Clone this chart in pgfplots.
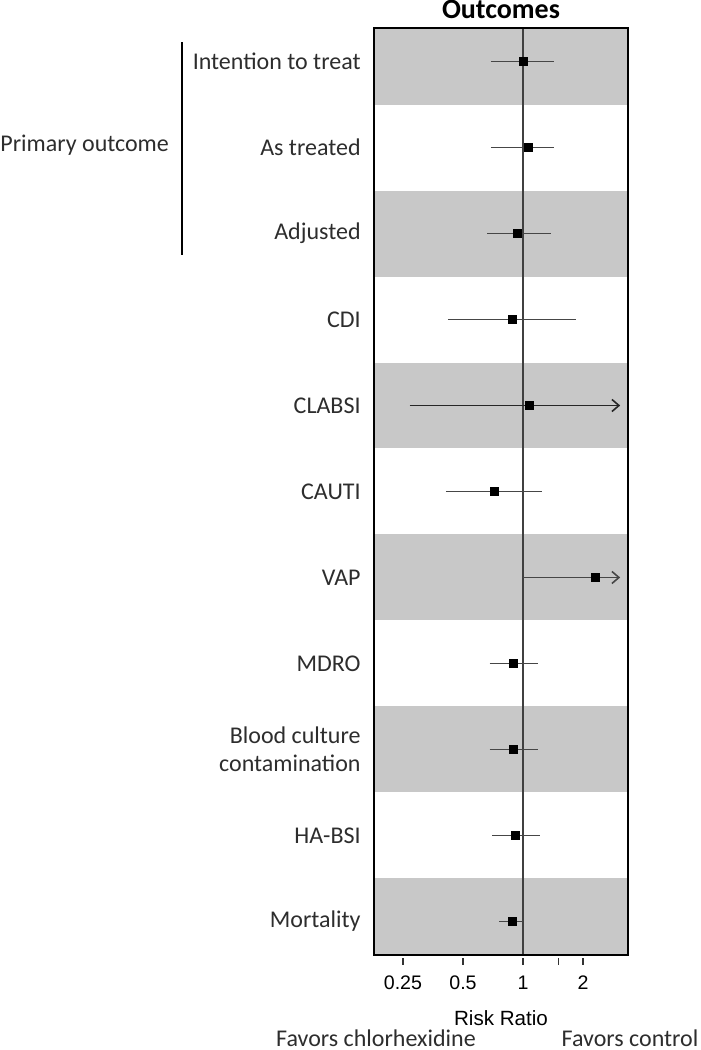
\documentclass[border=0pt]{standalone}
\usepackage{pgfplots}
\pgfplotsset{compat=1.18}
\usepackage{fontspec}
\setmainfont{Carlito}
\newfontfamily\arialfont{Liberation Sans}
\usetikzlibrary{arrows.meta}
\definecolor{bandgray}{RGB}{200,200,200}
\definecolor{cigray}{RGB}{70,70,70}
\definecolor{labelgray}{RGB}{45,45,45}
\begin{document}
\begin{tikzpicture}
\path[use as bounding box] (-187pt,-47.5pt) rectangle (163.5pt,477.5pt);
\begin{axis}[
  at={(0,0)}, anchor=south west,
  scale only axis, width=127pt, height=463.5pt,
  xmode=log, xmin=0.179, xmax=3.36, ymin=0.61, ymax=11.39,
  axis line style={line width=1pt, black},
  axis on top,
  tick align=outside, major tick length=3.5pt,
  xtick={0.25,0.5,1,1.5,2}, xticklabels={0.25,0.5,1,,2},
  xtick style={black!80, line width=0.6pt, yshift=-1.5pt},
  xticklabel style={font=\arialfont\fontsize{9.8}{11}\selectfont, anchor=base, yshift=-14pt},
  xtick pos=bottom,
  ytick={1,...,11},
  yticklabels={Mortality,HA-BSI,{Blood culture\\contamination},MDRO,VAP,CAUTI,CLABSI,CDI,Adjusted,As treated,Intention to treat},
  ytick style={draw=none},
  yticklabel style={font=\fontsize{12}{14}\selectfont, text=labelgray, align=right, inner sep=0pt, anchor=east, xshift=-3pt},
  title={Outcomes},
  every axis title/.style={font=\bfseries\fontsize{14}{16}\selectfont, at={(0.5,1)}, anchor=base, yshift=4.5pt},
  xlabel={Risk Ratio},
  xlabel style={font=\arialfont\fontsize{10.3}{12}\selectfont, at={(0.5,0)}, anchor=base, yshift=-35pt},
  clip=true,
]
% alternating background bands
\fill[bandgray] (axis cs:0.179,10.5) rectangle (axis cs:3.36,11.39);
\fill[bandgray] (axis cs:0.179,8.5) rectangle (axis cs:3.36,9.5);
\fill[bandgray] (axis cs:0.179,6.5) rectangle (axis cs:3.36,7.5);
\fill[bandgray] (axis cs:0.179,4.5) rectangle (axis cs:3.36,5.5);
\fill[bandgray] (axis cs:0.179,2.5) rectangle (axis cs:3.36,3.5);
\fill[bandgray] (axis cs:0.179,0.61) rectangle (axis cs:3.36,1.5);
% reference line
\addplot[black!75, line width=0.6pt] coordinates {(1,0.61) (1,11.39)};
% confidence intervals
\addplot[cigray, line width=0.8pt] coordinates {(0.69,11) (1.43,11)};
\addplot[cigray, line width=0.8pt] coordinates {(0.69,10) (1.43,10)};
\addplot[cigray, line width=0.8pt] coordinates {(0.66,9) (1.38,9)};
\addplot[cigray, line width=0.8pt] coordinates {(0.42,8) (1.84,8)};
\addplot[black!85, line width=0.8pt, -{Straight Barb[length=3.5pt,width=6pt]}] coordinates {(0.27,7) (3.07,7)};
\addplot[cigray, line width=0.8pt] coordinates {(0.41,6) (1.25,6)};
\addplot[cigray, line width=0.8pt, -{Straight Barb[length=3.5pt,width=6pt]}] coordinates {(1.00,5) (3.07,5)};
\addplot[cigray, line width=0.8pt] coordinates {(0.68,4) (1.19,4)};
\addplot[cigray, line width=0.8pt] coordinates {(0.68,3) (1.19,3)};
\addplot[cigray, line width=0.8pt] coordinates {(0.70,2) (1.22,2)};
\addplot[cigray, line width=0.8pt] coordinates {(0.76,1) (1.00,1)};
% point estimates
\addplot[only marks, mark=square*, mark size=2pt, black] coordinates {
(1.00,11) (1.06,10) (0.94,9) (0.88,8) (1.08,7) (0.72,6) (2.30,5) (0.89,4) (0.89,3) (0.92,2) (0.88,1)};
\end{axis}
% group bracket and label
\draw[black, line width=1pt] (-96pt,350pt) -- (-96pt,456.5pt);
\node[anchor=west, inner sep=0pt, text=labelgray, font=\fontsize{12}{14}\selectfont] at (-187pt,405pt) {Primary outcome};
% favors labels
\node[anchor=base, inner sep=0pt, text=labelgray, font=\fontsize{12}{14}\selectfont] at (1pt,-45.5pt) {Favors chlorhexidine};
\node[anchor=base, inner sep=0pt, text=labelgray, font=\fontsize{12}{14}\selectfont] at (128pt,-45.5pt) {Favors control};
\end{tikzpicture}
\end{document}
